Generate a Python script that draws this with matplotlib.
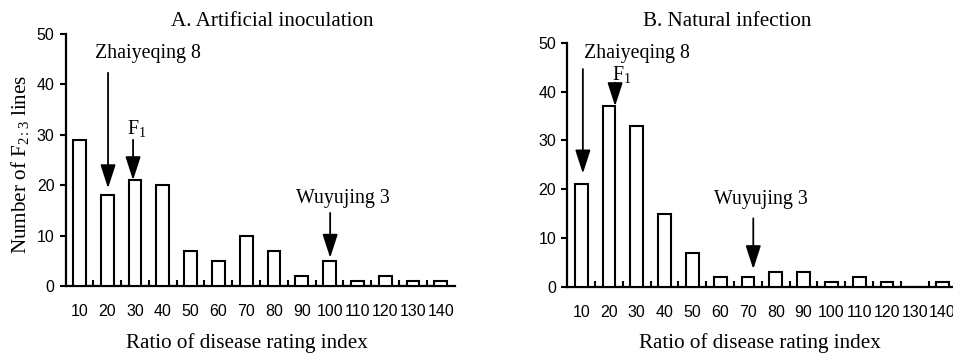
import matplotlib
matplotlib.use("Agg")
import matplotlib.pyplot as plt
import numpy as np

categories = ["10", "20", "30", "40", "50", "60", "70", "80", "90", "100", "110", "120", "130", "140"]
artificial = [29, 18, 21, 20, 7, 5, 10, 7, 2, 5, 1, 2, 1, 1]
natural = [21, 37, 33, 15, 7, 2, 2, 3, 3, 1, 2, 1, 0, 1]
y_ticks = [0, 10, 20, 30, 40, 50]

SERIF = "Liberation Serif"
SANS = "Liberation Sans"

plt.rcParams["mathtext.fontset"] = "custom"
plt.rcParams["mathtext.rm"] = SERIF
plt.rcParams["mathtext.it"] = SERIF + ":italic"
plt.rcParams["mathtext.bf"] = SERIF + ":bold"

W, H = 954, 354
fig = plt.figure(figsize=(W / 100, H / 100), dpi=100)

def make_ax(left_px, bottom_px, width_px, height_px):
    return fig.add_axes([left_px / W, 1 - bottom_px / H, width_px / W, height_px / H])

axA = make_ax(65.5, 286, 14 * 27.8, 252)
axB = make_ax(567.3, 286.7, 14 * 27.8, 244)

x = np.arange(len(categories))

def style(ax, vals):
    ax.bar(x, vals, width=0.46, facecolor="white", edgecolor="black", linewidth=1.5, zorder=3)
    ax.set_xlim(-0.5, len(categories) - 0.5)
    ax.set_ylim(0, 50)
    for s in ["top", "right"]:
        ax.spines[s].set_visible(False)
    for s in ["left", "bottom"]:
        ax.spines[s].set_linewidth(1.6)
        ax.spines[s].set_clip_on(False)
    ax.set_yticks(y_ticks)
    ax.set_yticklabels([str(v) for v in y_ticks], fontfamily=SANS, fontsize=11.5)
    ax.tick_params(axis="y", direction="out", length=4, width=1.5, pad=4)
    ax.set_xticks(x)
    ax.set_xticklabels(categories, fontfamily=SANS, fontsize=11.5)
    ax.tick_params(axis="x", which="major", length=0, pad=13)
    ax.set_xticks(np.arange(0.5, len(categories) - 1, 1.0), minor=True)
    ax.tick_params(axis="x", which="minor", direction="in", length=4, width=1.5)

style(axA, artificial)
style(axB, natural)

def arrow(ax, xpos, y_start, y_tip):
    ax.annotate("", xy=(xpos, y_tip), xytext=(xpos, y_start),
                arrowprops=dict(arrowstyle="-|>,head_length=1.45,head_width=0.47",
                                mutation_scale=10, color="black", lw=1.3,
                                shrinkA=0, shrinkB=0), zorder=5)

tfs = 14.3
# Panel A annotations
axA.text(2.47, 46.2, "Zhaiyeqing 8", fontfamily=SERIF, fontsize=tfs, ha="center", va="center")
arrow(axA, 1.03, 42.3, 19.4)
axA.text(2.07, 31.3, "F$_1$", fontfamily=SERIF, fontsize=tfs, ha="center", va="center")
arrow(axA, 1.93, 29.0, 21.0)
axA.text(9.48, 17.3, "Wuyujing 3", fontfamily=SERIF, fontsize=tfs, ha="center", va="center")
arrow(axA, 9.02, 14.5, 5.6)

# Panel B annotations
axB.text(2.0, 47.8, "Zhaiyeqing 8", fontfamily=SERIF, fontsize=tfs, ha="center", va="center")
arrow(axB, 0.06, 44.6, 23.2)
axB.text(1.46, 43.4, "F$_1$", fontfamily=SERIF, fontsize=tfs, ha="center", va="center")
arrow(axB, 1.22, 41.8, 37.0)
axB.text(6.47, 17.9, "Wuyujing 3", fontfamily=SERIF, fontsize=tfs, ha="center", va="center")
arrow(axB, 6.19, 14.0, 3.6)

fs = 15.2
fig.text(272 / W, 1 - 22 / H, "A. Artificial inoculation", fontfamily=SERIF, fontsize=fs, ha="center", va="center")
fig.text(727 / W, 1 - 22 / H, "B. Natural infection", fontfamily=SERIF, fontsize=fs, ha="center", va="center")
fig.text(246.7 / W, 1 - 343 / H, "Ratio of disease rating index", fontfamily=SERIF, fontsize=fs, ha="center", va="center")
fig.text(760 / W, 1 - 343 / H, "Ratio of disease rating index", fontfamily=SERIF, fontsize=fs, ha="center", va="center")
fig.text(20 / W, 1 - 164 / H, "Number of F$_{2:3}$ lines", fontfamily=SERIF, fontsize=fs, ha="center", va="center", rotation=90)

fig.savefig("out.png", dpi=100)
